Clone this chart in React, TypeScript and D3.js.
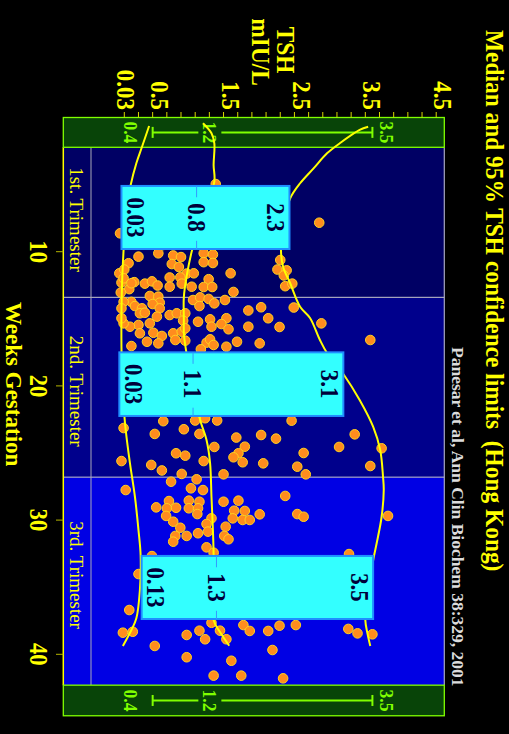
import React from "react";
import * as d3 from "d3";

const WIDTH = 509;
const HEIGHT = 734;

// [weeks gestation, TSH mIU/L]
const pointsT1: [number, number][] = [
  [4.96, 1.29], [7.84, 2.75], [8.63, -0.06], [10.37, 0.2], [10.12, 0.48], [10.28, 0.69],
  [10.4, 0.8], [10.92, 0.67], [11.14, 0.77], [10.12, 1.12], [10.21, 1.25], [10.78, 1.12],
  [10.84, 1.25], [10.62, 2.2], [10.86, 0.06], [11.61, -0.07], [11.33, 0.0], [11.63, 0.88],
  [11.61, 0.98], [11.61, 1.5], [11.33, 2.16], [11.39, 2.29], [11.77, 2.25], [11.92, 0.64],
  [11.91, 0.79], [12.05, 1.19], [12.3, -0.04], [12.27, 0.14], [12.38, 0.29], [12.21, 0.39],
  [12.52, 0.47], [12.79, 0.07], [12.61, 0.64], [12.38, 0.81], [12.61, 0.95], [12.63, 1.12],
  [12.63, 1.24], [12.57, 2.27], [12.38, 2.37], [13.0, 1.54], [13.04, -0.05], [11.98, -0.01],
  [12.35, 0.1], [6.15, 0.36], [7.27, 0.79], [8.38, 1.63], [9.13, 1.07], [6.15, 1.91],
  [8.9, 0.2], [9.5, 0.55],
];

const pointsT2: [number, number][] = [
  [13.3, 0.36], [13.35, 0.48], [13.8, 0.5], [13.9, 0.4], [14.22, 0.5], [13.74, 0.1],
  [14.05, 0.15], [14.22, 0.25], [13.74, -0.01], [14.22, -0.04], [14.59, 0.22], [14.55, 0.29],
  [14.84, 0.46], [15.34, 0.36], [15.46, 0.2], [15.59, 0.08], [15.34, -0.01], [14.96, -0.04],
  [16.08, 0.22], [16.04, 0.41], [16.28, 0.53], [16.08, 0.69], [15.96, 0.81], [16.71, 0.32],
  [16.83, 0.48], [17.03, 0.1], [14.72, 0.64], [14.59, 0.74], [14.59, 0.86], [15.14, 0.83],
  [15.71, 0.86], [15.22, 1.04], [15.04, 1.21], [14.96, 1.44], [15.39, 1.37], [15.59, 1.23],
  [15.78, 1.47], [16.78, 1.16], [16.53, 1.21], [16.95, 1.26], [17.08, 1.44], [16.58, 0.72],
  [16.63, 0.86], [16.71, 1.59], [13.6, 1.42], [13.6, 0.97], [13.4, 1.07], [13.52, 1.19],
  [14.05, 1.06], [13.85, 1.27], [14.38, 1.75], [14.14, 1.93], [14.16, 2.39], [14.96, 2.03],
  [15.59, 1.75], [15.61, 2.19], [15.34, 2.78], [16.58, 3.47], [16.83, 1.91], [17.27, 1.08],
  [23.14, -0.01], [23.58, 0.43], [22.63, 0.55], [23.23, 0.84], [23.58, 1.06], [22.58, 1.31],
  [22.58, 1.0], [22.41, 1.14], [24.55, 1.27], [25.02, 0.73], [25.2, 0.86], [25.6, 1.12],
  [23.85, 1.58], [24.53, 1.7], [25.02, 1.61], [25.32, 1.54], [25.69, 1.67], [23.66, 1.93],
  [23.93, 2.14], [25.77, 1.96], [25.0, 2.53], [26.02, 2.44], [26.59, 2.56], [23.61, 3.25],
  [24.55, 3.03], [25.97, 3.47], [24.65, 3.63], [25.6, -0.04], [25.89, 0.38], [26.3, 0.53],
  [26.56, 0.81], [22.59, 2.36], [26.59, 1.4], [19.0, 0.5], [20.2, 1.4], [21.0, 2.2],
];

const pointsT3: [number, number][] = [
  [27.14, 0.66], [26.96, 1.02], [27.63, 0.94], [27.76, 1.11], [27.76, 0.02], [28.2, 2.27],
  [28.63, 1.4], [28.55, 1.61], [28.58, 0.63], [29.05, 0.45], [29.12, 0.6], [29.08, 0.73],
  [28.55, 0.91], [28.63, 1.06], [29.12, 0.91], [29.12, 1.04], [29.69, 0.59], [30.12, 0.69],
  [29.55, 1.03], [29.3, 1.55], [29.32, 1.7], [29.57, 1.91], [29.87, 1.53], [29.99, 1.67],
  [29.99, 1.77], [29.55, 2.44], [29.75, 2.53], [29.69, 3.72], [29.87, 1.23], [30.29, 1.16],
  [30.57, 0.79], [31.18, 0.72], [31.61, 0.69], [31.18, 0.88], [30.98, 1.04], [30.86, 1.18],
  [30.49, 1.43], [31.18, 1.41], [31.43, 1.47], [32.03, 1.16], [32.43, 1.26], [32.53, 3.17],
  [32.68, 0.39], [34.02, 0.2], [36.7, 0.07], [38.39, -0.02], [38.32, 0.12], [39.38, 0.43],
  [38.56, 0.88], [38.24, 1.06], [38.88, 1.14], [37.82, 1.68], [38.26, 1.77], [38.24, 1.35],
  [38.88, 1.44], [38.26, 2.03], [37.87, 2.19], [37.82, 2.42], [38.11, 3.16], [38.44, 3.29],
  [38.51, 3.5], [39.68, 2.09], [40.22, 0.88], [40.48, 1.51], [41.59, 1.26], [41.59, 1.65],
  [41.79, 2.24], [37.65, 1.23], [34.0, 0.8], [35.0, 1.6], [33.5, 2.4], [36.0, 0.5],
];

// percentile curves [weeks, TSH]
const lowerCurve: [number, number][] = [
  [0.63, 0.35], [2.18, 0.25], [3.41, 0.17], [5.03, 0.09], [7.27, 0.02], [9.87, -0.01],
  [12.11, -0.03], [14.57, -0.04], [17.08, -0.04], [19.56, -0.03], [22.17, 0.0], [23.29, 0.02],
  [25.77, 0.08], [28.26, 0.15], [30.74, 0.2], [32.6, 0.23], [35.21, 0.22], [37.32, 0.17],
  [38.19, 0.1], [39.38, -0.02],
];
const medianCurve: [number, number][] = [
  [0.43, 1.11], [1.18, 1.23], [1.92, 1.27], [3.54, 1.26], [4.78, 1.27], [7.27, 1.11],
  [9.8, 0.96], [11.81, 0.88], [13.38, 0.84], [15.09, 0.84], [16.06, 0.84], [17.32, 0.87],
  [19.93, 0.97], [22.54, 1.07], [24.03, 1.16], [25.75, 1.21], [28.28, 1.23], [30.74, 1.25],
  [32.6, 1.26], [37.44, 1.26], [38.34, 1.35], [39.36, 1.48],
];
const upperCurve: [number, number][] = [
  [0.69, 3.44], [0.93, 3.32], [1.92, 3.04], [2.67, 2.86], [3.79, 2.67], [4.9, 2.48],
  [6.02, 2.34], [8.01, 2.24], [9.87, 2.21], [11.12, 2.24], [12.35, 2.34], [14.1, 2.48],
  [14.94, 2.62], [16.58, 2.76], [17.55, 2.86], [19.11, 3.09], [21.05, 3.32], [23.04, 3.51],
  [24.78, 3.61], [26.79, 3.65], [27.76, 3.66], [29.75, 3.63], [31.73, 3.56], [32.73, 3.52],
  [35.21, 3.44], [37.44, 3.4], [38.44, 3.43], [39.38, 3.47],
];

// trimester summary boxes
const boxes = [
  { from: 5.1, to: 9.8, lo: -0.04, med: 1.02, hi: 2.33, labels: ["0.03", "0.8", "2.3"] },
  { from: 17.5, to: 22.24, lo: -0.07, med: 0.97, hi: 3.09, labels: ["0.03", "1.1", "3.1"] },
  { from: 32.67, to: 37.37, lo: 0.245, med: 1.3, hi: 3.51, labels: ["0.13", "1.3", "3.5"] },
];

const trimesters = [
  { name: "1st. Trimester", from: 2.22, to: 13.4, labelAt: 7.6, fill: "#000064" },
  { name: "2nd. Trimester", from: 13.4, to: 26.8, labelAt: 20.4, fill: "#00008c" },
  { name: "3rd. Trimester", from: 26.8, to: 42.3, labelAt: 34.1, fill: "#0000e4" },
];

// reference range shown in the green bands
const refRange = { lo: 0.4, med: 1.2, hi: 3.5 };
const refBands = [{ from: 0, to: 2.22 }, { from: 42.3, to: 44.58 }];

const tshLabels = [0.03, 0.5, 1.5, 2.5, 3.5, 4.5];
const weekTicks = [10, 20, 30, 40];

const FONT = "'Liberation Serif', 'Times New Roman', serif";

function VText(props: any) {
  const { x, y, size, fill, anchor = "start", weight = "bold", sx = 1, dy, children } = props;
  return (
    <text
      transform={`translate(${x},${y}) rotate(90) scale(${sx},1)`}
      fontFamily={FONT}
      fontSize={size}
      fontWeight={weight}
      fill={fill}
      textAnchor={anchor}
      dy={dy}
    >
      {children}
    </text>
  );
}

export default function App() {
  const x = d3.scaleLinear().domain([0, 4.5]).range([124.3, 443.3]);
  const y = d3.scaleLinear().domain([10, 40]).range([251.7, 654.3]);
  const left = 63.3;
  const right = 444.3;
  const labelCol = 91;
  const plotTop = y(2.22);
  const plotBottom = y(42.3);

  const line = d3
    .line<[number, number]>()
    .x((d) => x(d[1]))
    .y((d) => y(d[0]))
    .curve(d3.curveCatmullRom);

  const allPoints = [...pointsT1, ...pointsT2, ...pointsT3];
  const tshTicks = x.ticks(18);

  return (
    <svg
      width={WIDTH}
      height={HEIGHT}
      style={{ position: "absolute", left: 0, top: 0, background: "#000" }}
    >
      <rect width={WIDTH} height={HEIGHT} fill="#000" />

      {/* trimester backgrounds */}
      {trimesters.map((t, i) => (
        <rect key={i} x={left} y={y(t.from)} width={right - left} height={y(t.to) - y(t.from)} fill={t.fill} />
      ))}
      {trimesters.slice(1).map((t, i) => (
        <line key={i} x1={left} x2={right} y1={y(t.from)} y2={y(t.from)} stroke="#c8c8d0" strokeWidth={1} />
      ))}
      <line x1={labelCol} x2={labelCol} y1={plotTop} y2={plotBottom} stroke="#a8a8b8" strokeWidth={1} />
      <line x1={right} x2={right} y1={plotTop} y2={plotBottom} stroke="#a8a8c0" strokeWidth={1.2} />
      <line x1={left} x2={left} y1={plotTop} y2={plotBottom} stroke="#ffff00" strokeWidth={1.5} />

      {/* green reference bands */}
      {refBands.map((b, i) => {
        const y0 = y(b.from);
        const y1 = y(b.to);
        const cy = (y0 + y1) / 2;
        const xm = x(refRange.med);
        return (
          <g key={i}>
            <rect x={left} y={y0} width={right - left} height={y1 - y0} fill="#084408" stroke="#80ff00" strokeWidth={1.3} />
            <line x1={x(refRange.lo)} x2={xm - 11} y1={cy} y2={cy} stroke="#80ff00" strokeWidth={2} />
            <line x1={xm + 12} x2={x(refRange.hi)} y1={cy} y2={cy} stroke="#80ff00" strokeWidth={2} />
            <line x1={x(refRange.lo)} x2={x(refRange.lo)} y1={cy - 5.5} y2={cy + 5.5} stroke="#80ff00" strokeWidth={2} />
            <line x1={x(refRange.hi)} x2={x(refRange.hi)} y1={cy - 5.5} y2={cy + 5.5} stroke="#80ff00" strokeWidth={2} />
            <VText x={x(refRange.lo) - 28.5} y={cy} size={19.5} sx={0.9} fill="#80ff00" anchor="middle">0.4</VText>
            <VText x={xm - 6.8} y={cy} size={19.5} sx={0.9} fill="#80ff00" anchor="middle">1.2</VText>
            <VText x={x(refRange.hi) + 7.6} y={cy} size={19.5} sx={0.9} fill="#80ff00" anchor="middle">3.5</VText>
          </g>
        );
      })}

      {/* TSH axis ticks */}
      {tshTicks.map((t, i) => (
        <line key={i} x1={x(t)} x2={x(t)} y1={112} y2={y(0)} stroke="#d8d800" strokeWidth={1} />
      ))}
      {tshLabels.map((t, i) => (
        <VText key={i} x={x(t)} y={110} size={25.5} sx={0.9} fill="#ffff00" anchor="end" dy="0.35em">
          {String(t)}
        </VText>
      ))}
      <VText x={277} y={26.7} size={26} sx={0.9} fill="#ffff00">TSH</VText>
      <VText x={252} y={18.3} size={26} sx={0.9} fill="#ffff00">mIU/L</VText>

      {/* weeks axis */}
      {weekTicks.map((w, i) => (
        <g key={i}>
          <line x1={56} x2={left} y1={y(w)} y2={y(w)} stroke="#b4b400" strokeWidth={1} />
          <VText x={30} y={y(w)} size={25} sx={0.9} fill="#ffff00" anchor="middle">{String(w)}</VText>
        </g>
      ))}
      <VText x={6} y={302} size={24} sx={0.96} fill="#ffff00">Weeks Gestation</VText>

      {/* trimester labels */}
      {trimesters.map((t, i) => (
        <VText key={i} x={70} y={y(t.labelAt)} size={19} weight="normal" fill="#ffff00" anchor="middle">
          {t.name}
        </VText>
      ))}

      {/* scatter */}
      {allPoints.map((p, i) => (
        <circle key={i} cx={x(p[1])} cy={y(p[0])} r={4.8} fill="#ff8c1e" stroke="#ffd21e" strokeWidth={1} />
      ))}

      {/* percentile curves */}
      {[lowerCurve, medianCurve, upperCurve].map((c, i) => (
        <path key={i} d={line(c) || ""} fill="none" stroke="#ffff00" strokeWidth={2} />
      ))}

      {/* summary boxes */}
      {boxes.map((b, i) => {
        const y0 = y(b.from);
        const y1 = y(b.to);
        const h = y1 - y0;
        const cy = (y0 + y1) / 2;
        const xm = x(b.med);
        return (
          <g key={i}>
            <rect x={x(b.lo)} y={y0} width={x(b.hi) - x(b.lo)} height={h} fill="#33ffff" stroke="#1f8fff" strokeWidth={2} />
            <line x1={xm} x2={xm} y1={y0} y2={y0 + h * 0.18} stroke="#3399ff" strokeWidth={1} />
            <line x1={xm} x2={xm} y1={y1 - h * 0.13} y2={y1} stroke="#3399ff" strokeWidth={1} />
            <VText x={x(b.lo) + 5.5} y={cy} size={25.5} sx={0.9} fill="#00003a" anchor="middle">{b.labels[0]}</VText>
            <VText x={xm} y={cy} size={25.5} sx={0.9} fill="#00003a" anchor="middle" dy="0.34em">{b.labels[1]}</VText>
            <VText x={x(b.hi) - 22.3} y={cy} size={25.5} sx={0.9} fill="#00003a" anchor="middle">{b.labels[2]}</VText>
          </g>
        );
      })}

      {/* titles */}
      <VText x={486} y={30} size={26} sx={0.9} fill="#ffff00">
        Median and 95% TSH confidence limits{"\u00a0\u00a0"}(Hong Kong)
      </VText>
      <VText x={451.7} y={347} size={17.5} fill="#dcdcdc">
        Panesar et al, Ann Clin Biochem 38:329, 2001
      </VText>
    </svg>
  );
}
